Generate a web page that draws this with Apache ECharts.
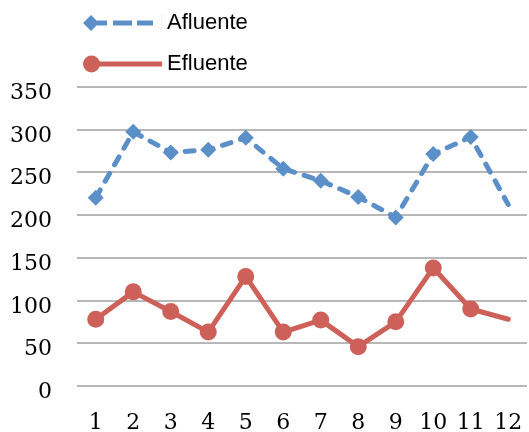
<!DOCTYPE html>
<html>
<head>
<meta charset="utf-8">
<script src="https://cdn.jsdelivr.net/npm/echarts@6/dist/echarts.min.js"></script>
<style>
  html, body { margin: 0; padding: 0; background: #ffffff; }
  #chart { width: 529px; height: 432px; }
</style>
</head>
<body>
<div id="chart"></div>
<script>
// Monthly values (1-12) for influent and effluent
const categories = ['1', '2', '3', '4', '5', '6', '7', '8', '9', '10', '11', '12'];
const afluente = [220, 297, 273, 276, 290, 254, 240, 221, 197, 271, 291, 212];
const efluente = [78, 110, 87, 63, 128, 63, 77, 46, 75, 138, 90, 78];
const yTicks = { min: 0, max: 350, step: 50 };

const blue = '#5b8fc8';
const red = '#cd615a';

// the last month has no marker on either series
function points(values) {
  return values.map((v, i) => i === values.length - 1 ? { value: v, symbol: 'none' } : v);
}

// legend icons: marker on the left followed by the line pattern
const iconAfluente = 'path://M0 8.5 L8 0.5 L16 8.5 L8 16.5 Z M14 6 H24 V11 H14 Z M30 6 H49 V11 H30 Z M54 6 H70 V11 H54 Z M78.9 0 L79 0 L79 17 L78.9 17 Z';
const iconEfluente = 'path://M0 8.5 A8.5 8.5 0 1 1 17 8.5 A8.5 8.5 0 1 1 0 8.5 Z M8 6 H79 V11 H8 Z';

const chart = echarts.init(document.getElementById('chart'), null, { renderer: 'canvas' });
chart.setOption({
  animation: false,
  backgroundColor: '#ffffff',
  grid: { left: 77, right: 2, top: 86.5, bottom: 46, containLabel: false, outerBoundsMode: 'none' },
  legend: {
    orient: 'vertical',
    left: 83,
    top: 12,
    padding: 0,
    itemWidth: 79,
    itemHeight: 17,
    itemGap: 19,
    symbolKeepAspect: false,
    itemStyle: { borderWidth: 0 },
    textStyle: { fontFamily: 'Liberation Sans', fontSize: 22, color: '#000000' },
    data: [
      { name: 'Afluente', icon: iconAfluente, itemStyle: { color: blue } },
      { name: 'Efluente', icon: iconEfluente, itemStyle: { color: red } }
    ]
  },
  xAxis: {
    type: 'category',
    data: categories,
    boundaryGap: true,
    axisLine: { show: false },
    axisTick: { show: false },
    axisLabel: { margin: 26, fontFamily: 'DejaVu Serif', fontSize: 22, color: '#000000' }
  },
  yAxis: {
    type: 'value',
    min: yTicks.min,
    max: yTicks.max,
    interval: yTicks.step,
    axisLine: { show: false },
    axisTick: { show: false },
    axisLabel: {
      margin: 25, fontFamily: 'DejaVu Serif', fontSize: 22, color: '#000000',
      verticalAlign: 'top', lineHeight: 13
    },
    splitLine: { lineStyle: { color: '#a0a0a0', width: 1.6 } }
  },
  series: [
    {
      name: 'Afluente',
      type: 'line',
      data: points(afluente),
      symbol: 'diamond',
      symbolSize: 16,
      itemStyle: { color: blue },
      lineStyle: { color: blue, width: 5, type: [9, 10], cap: 'round' },
      z: 3
    },
    {
      name: 'Efluente',
      type: 'line',
      data: points(efluente),
      symbol: 'circle',
      symbolSize: 17,
      itemStyle: { color: red },
      lineStyle: { color: red, width: 5, cap: 'round' },
      z: 2
    }
  ]
});
</script>
</body>
</html>
